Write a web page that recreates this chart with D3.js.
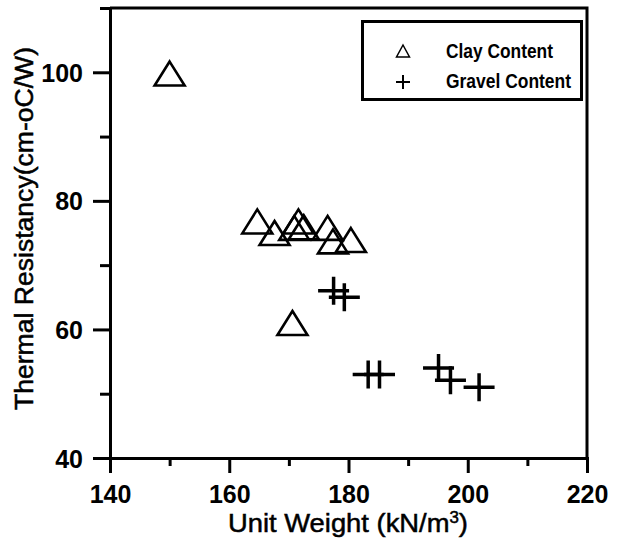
<!DOCTYPE html>
<html>
<head>
<meta charset="utf-8">
<script src="https://cdn.jsdelivr.net/npm/d3@7"></script>
<style>
  body { margin: 0; background: #fff; }
  svg text { font-family: "Liberation Sans", Arial, sans-serif; fill: #000; }
</style>
</head>
<body>
<svg id="chart" width="619" height="540"></svg>
<script>
// 数据
const clayX = [150, 164.7, 167.6, 170.9, 171.6, 172.5, 176.5, 177.4, 180.4, 170.6];
const clayY = [99.8, 76.8, 75.0, 75.8, 76.8, 75.9, 75.8, 73.7, 73.9, 61.0];
const gravelX = [177.5, 179.3, 183.3, 185.2, 195.1, 197.1, 201.9];
const gravelY = [66.0, 65.0, 53.0, 53.0, 54.0, 52.1, 51.0];
const xMajor = [140, 160, 180, 200, 220];
const xMinor = [150, 170, 190, 210];
const yMajor = [40, 60, 80, 100];
const yMinor = [50, 70, 90, 110];
const legendLabels = ['Clay Content', 'Gravel Content'];

const plotLeft = 110, plotRight = 587, plotTop = 8, plotBottom = 458;

const svg = d3.select('#chart');

const x = d3.scaleLinear().domain([140, 220]).range([plotLeft, plotRight]);
const y = d3.scaleLinear().domain([40, 110]).range([plotBottom, plotTop]);

// 边框（上、右）
svg.append('path')
  .attr('d', `M${plotLeft},${plotTop}H${plotRight}V${plotBottom}`)
  .attr('fill', 'none')
  .attr('stroke', '#000')
  .attr('stroke-width', 3);

// x 轴
const gx = svg.append('g')
  .attr('transform', `translate(0,${plotBottom})`)
  .call(d3.axisBottom(x).tickValues(xMajor).tickSize(15).tickSizeOuter(0));
gx.selectAll('text')
  .attr('y', 45).attr('dy', null)
  .style('font-size', '25px').style('font-weight', 'bold');

svg.append('g')
  .attr('transform', `translate(0,${plotBottom})`)
  .call(d3.axisBottom(x).tickValues(xMinor).tickSize(8).tickSizeOuter(0).tickFormat(''))
  .select('.domain').remove();

// y 轴
const gy = svg.append('g')
  .attr('transform', `translate(${plotLeft},0)`)
  .call(d3.axisLeft(y).tickValues(yMajor).tickSize(17).tickSizeOuter(0));
gy.selectAll('text')
  .attr('x', -27).attr('dy', '0.36em')
  .style('font-size', '25px').style('font-weight', 'bold');

svg.append('g')
  .attr('transform', `translate(${plotLeft},0)`)
  .call(d3.axisLeft(y).tickValues(yMinor).tickSize(10).tickSizeOuter(0).tickFormat(''))
  .select('.domain').remove();

svg.selectAll('.domain, .tick line')
  .attr('stroke', '#000')
  .attr('stroke-width', 3);
svg.selectAll('.domain').attr('stroke-linecap', 'square');

// 轴标题
const xTitle = svg.append('text')
  .attr('x', 348)
  .attr('y', 532)
  .attr('text-anchor', 'middle')
  .attr('textLength', 240)
  .attr('lengthAdjust', 'spacingAndGlyphs')
  .style('font-size', '26px')
  .attr('stroke', '#000').attr('stroke-width', 0.5);
xTitle.append('tspan').text('Unit Weight (kN/m');
xTitle.append('tspan').attr('dy', -9).style('font-size', '16px').text('3');
xTitle.append('tspan').attr('dy', 9).text(')');

svg.append('text')
  .attr('transform', 'translate(33,228.5) rotate(-90)')
  .attr('text-anchor', 'middle')
  .attr('textLength', 363)
  .attr('lengthAdjust', 'spacingAndGlyphs')
  .style('font-size', '25px')
  .attr('stroke', '#000').attr('stroke-width', 0.5)
  .text('Thermal Resistancy(cm-oC/W)');

// 标记形状
function triPath(cx, cy, w, h) {
  return `M${cx},${cy - h / 2}L${cx + w / 2},${cy + h / 2}L${cx - w / 2},${cy + h / 2}Z`;
}
function plusPath(cx, cy, w, h) {
  return `M${cx - w / 2},${cy}H${cx + w / 2}M${cx},${cy - h / 2}V${cy + h / 2}`;
}

const clay = clayX.map((v, i) => ({ x: v, y: clayY[i] }));
const gravel = gravelX.map((v, i) => ({ x: v, y: gravelY[i] }));

svg.append('g').selectAll('path.clay')
  .data(clay)
  .enter()
  .append('path')
  .attr('class', 'clay')
  .attr('d', d => triPath(x(d.x), y(d.y), 30, 24))
  .attr('fill', 'none')
  .attr('stroke', '#000')
  .attr('stroke-width', 2.6)
  .attr('stroke-linejoin', 'miter');

svg.append('g').selectAll('path.gravel')
  .data(gravel)
  .enter()
  .append('path')
  .attr('class', 'gravel')
  .attr('d', d => plusPath(x(d.x), y(d.y), 31, 28))
  .attr('fill', 'none')
  .attr('stroke', '#000')
  .attr('stroke-width', 3.5);

// 图例
const legend = svg.append('g');
legend.append('rect')
  .attr('x', 362.5).attr('y', 21.5)
  .attr('width', 219).attr('height', 78)
  .attr('fill', '#fff')
  .attr('stroke', '#000')
  .attr('stroke-width', 3);

legend.append('path')
  .attr('d', triPath(403, 51, 13, 12))
  .attr('fill', 'none').attr('stroke', '#000').attr('stroke-width', 1.5);
legend.append('path')
  .attr('d', plusPath(403, 82, 14, 14))
  .attr('fill', 'none').attr('stroke', '#000').attr('stroke-width', 2);

legend.selectAll('text.lg')
  .data(legendLabels)
  .enter()
  .append('text')
  .attr('class', 'lg')
  .attr('x', 446)
  .attr('y', (d, i) => 58 + i * 30)
  .attr('textLength', (d, i) => i === 0 ? 107 : 125)
  .attr('lengthAdjust', 'spacingAndGlyphs')
  .style('font-size', '21px')
  .style('font-weight', 'bold')
  .text(d => d);
</script>
</body>
</html>
